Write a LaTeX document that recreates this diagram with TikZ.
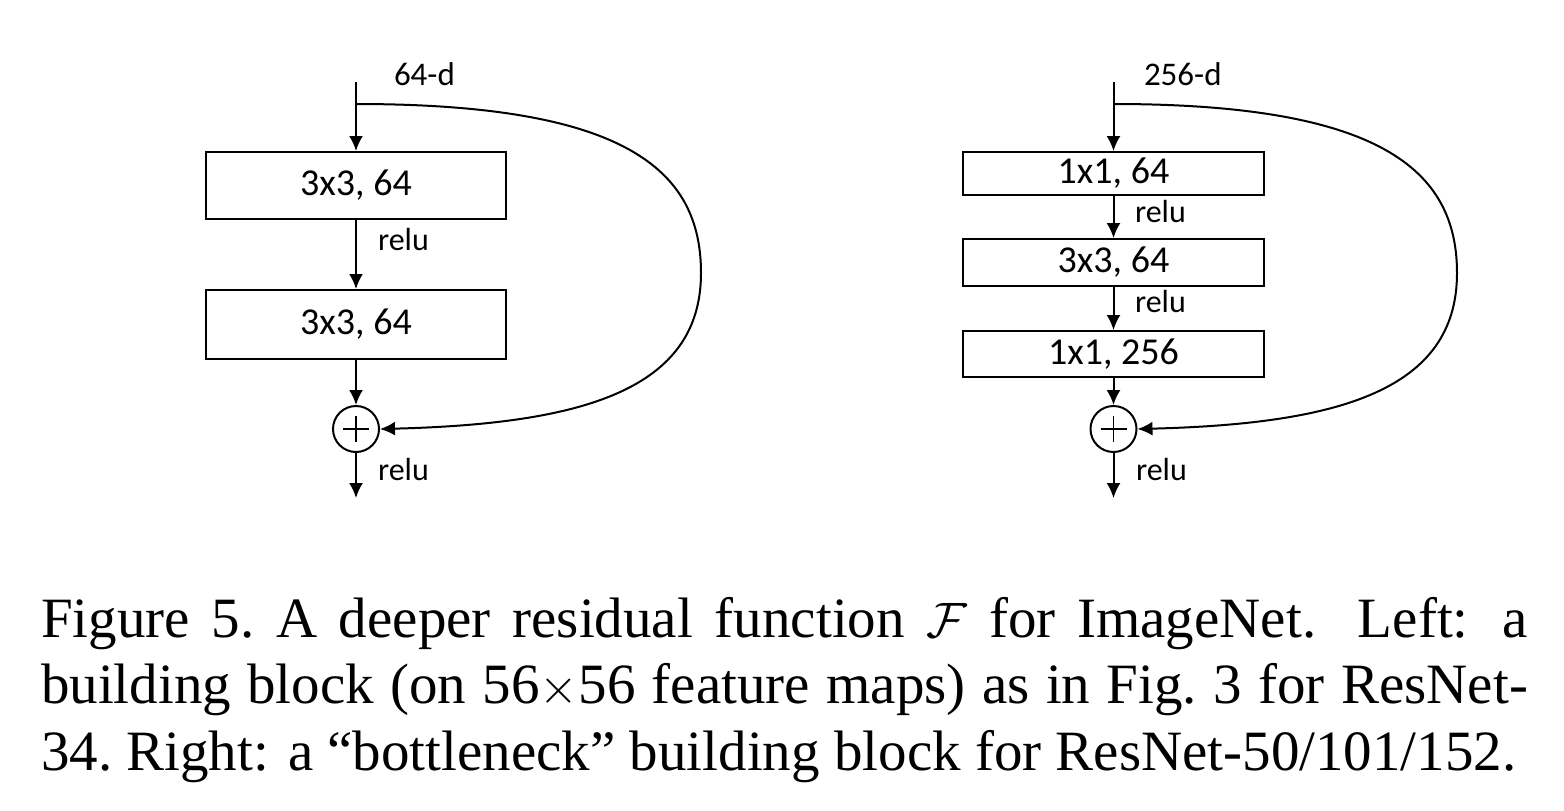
\documentclass[tikz,border=0pt]{standalone}
\usepackage{fontspec}
\setmainfont{Liberation Serif}
\newfontfamily\calfont{Carlito}
\usetikzlibrary{arrows.meta}
\begin{document}
\begin{tikzpicture}[x=0.5pt,y=-0.5pt,
  line width=1pt,
  >={Latex[length=7.5pt,width=7pt]},
  blk/.style={draw, line width=1pt, minimum width=150pt, inner sep=0pt, font=\calfont\fontsize{19}{22}\selectfont},
  lbl/.style={font=\calfont\fontsize{16}{19}\selectfont, inner sep=0pt, anchor=base west},
  dimlbl/.style={font=\calfont\fontsize{16.5}{20}\selectfont, inner sep=0pt, anchor=base west},
  sumnode/.style={draw, circle, minimum size=23pt, inner sep=0pt},
  plusline/.style={line width=0.8pt},
  caplbl/.style={font=\fontsize{28.5}{33}\selectfont, inner sep=0pt, anchor=base west}]
\useasboundingbox (0,0) rectangle (1564,810);
\fill[white] (0,0) rectangle (1564,810);

% ---------- left block ----------
\coordinate (Lin) at (356,82);
\coordinate (Lbr) at (356,104);
\coordinate (Lext) at (701,273);
\node[blk, minimum height=33.5pt] (L1) at (356,185.5) {3x3, 64};
\node[blk, minimum height=34.5pt] (L2) at (356,324.5) {3x3, 64};
\node[sumnode] (Ls) at (356,429) {};
\coordinate (Lout) at (356,498);
\draw[plusline] ([xshift=-6.5pt]Ls.center) -- ([xshift=6.5pt]Ls.center);
\draw[plusline] ([yshift=-6.5pt]Ls.center) -- ([yshift=6.5pt]Ls.center);
\draw[->] (Lin) -- (L1);
\draw[->] (L1) -- (L2);
\draw[->] (L2) -- (Ls);
\draw[->] (Ls) -- (Lout);
\draw[->] (Lbr) .. controls +(270,0) and +(0,-103) .. (Lext)
  .. controls +(0,117) and +(202,-5) .. (Ls.east);
\node[dimlbl] (Ld) at (393,85) {64-d};
\node[lbl] (Lr1) at (377,250) {relu};
\node[lbl] (Lr2) at (377,480) {relu};

% ---------- right block ----------
\coordinate (Rin) at (1113.5,82);
\coordinate (Rbr) at (1113.5,104);
\coordinate (Rext) at (1457,273);
\node[blk, minimum width=150.5pt, minimum height=21.5pt] (R1) at (1113.5,173.5) {1x1, 64};
\node[blk, minimum width=150.5pt, minimum height=23.5pt] (R2) at (1113.5,262.5) {3x3, 64};
\node[blk, minimum width=150.5pt, minimum height=23pt] (R3) at (1113.5,354) {1x1, 256};
\node[sumnode] (Rs) at (1113.5,429) {};
\coordinate (Rout) at (1113.5,498);
\draw[plusline] ([xshift=-6.5pt]Rs.center) -- ([xshift=6.5pt]Rs.center);
\draw[plusline] ([yshift=-6.5pt]Rs.center) -- ([yshift=6.5pt]Rs.center);
\draw[->] (Rin) -- (R1);
\draw[->] (R1) -- (R2);
\draw[->] (R2) -- (R3);
\draw[->] (R3) -- (Rs);
\draw[->] (Rs) -- (Rout);
\draw[->] (Rbr) .. controls +(267,0) and +(0,-103) .. (Rext)
  .. controls +(0,117) and +(202,-5) .. (Rs.east);
\node[dimlbl] (Rd) at (1143,85) {256-d};
\node[lbl] (Rr1) at (1134,222) {relu};
\node[lbl] (Rr2) at (1134,312) {relu};
\node[lbl] (Rr3) at (1135,480) {relu};

% ---------- caption ----------
\node[caplbl] (c1) at (40,637) {\makebox[743.5pt][s]{Figure 5.\ A deeper residual function $\mathcal{F}$ for ImageNet.  Left: a}};
\node[caplbl] (c2) at (40,703) {\makebox[743.5pt][s]{building block (on 56$\times$56 feature maps) as in Fig.\ 3 for ResNet-}};
\node[caplbl] (c3) at (40,770) {34.\ Right: a “bottleneck” building block for ResNet-50/101/152.};
\end{tikzpicture}
\end{document}
